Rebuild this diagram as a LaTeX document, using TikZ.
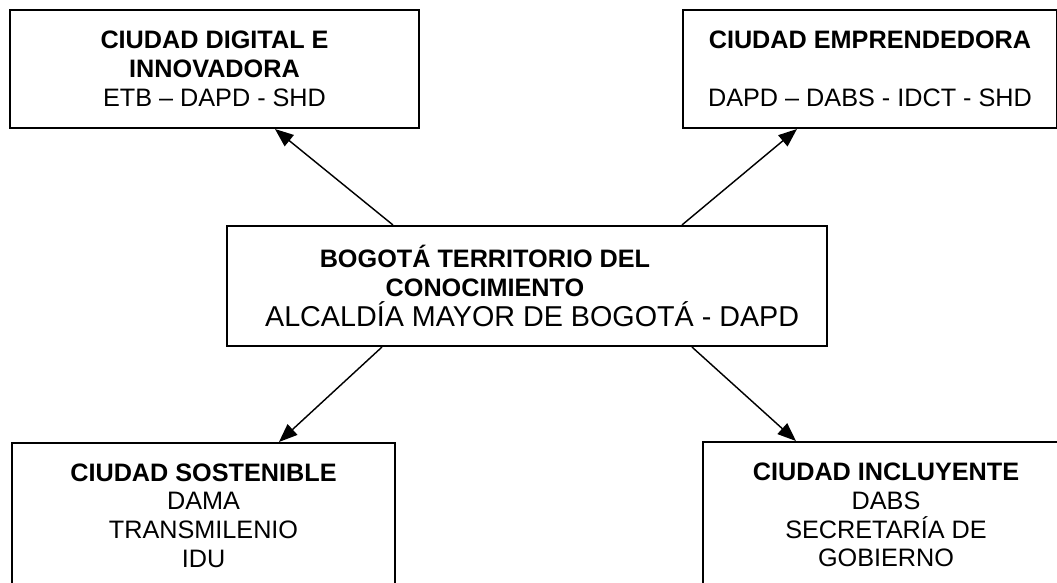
\documentclass[tikz,border=0pt]{standalone}
\usepackage{fontspec}
\setmainfont{Liberation Sans}
\usetikzlibrary{arrows.meta}
\newcommand{\pxu}{0.4875pt}

\begin{document}
\begin{tikzpicture}[x=\pxu,y=-\pxu,
  box/.style={draw,line width=1pt,rectangle,inner sep=0pt,align=center,font=\fontsize{12.3pt}{14pt}\selectfont},
  arr/.style={line width=0.7pt,-{Triangle[length=9pt,width=7pt]}}]
\useasboundingbox (0,0) rectangle (1057,582);
\node[box,minimum width=409*\pxu,minimum height=118*\pxu] (dig) at (214.5,69) {\textbf{CIUDAD DIGITAL E}\\\textbf{INNOVADORA}\\ETB – DAPD - SHD};
\node[box,minimum width=374*\pxu,minimum height=118*\pxu] (emp) at (870,69) {\textbf{CIUDAD EMPRENDEDORA}\\[14pt]DAPD – DABS - IDCT - SHD};
\node[box,minimum width=600*\pxu,minimum height=120*\pxu] (ctr) at (527,286) {\textbf{BOGOTÁ TERRITORIO DEL}\hspace*{41pt}\null\\\textbf{CONOCIMIENTO}\hspace*{41pt}\null\\[1pt]\hspace*{5pt}{\fontsize{14pt}{16pt}\selectfont ALCALDÍA MAYOR DE BOGOTÁ - DAPD}};
\node[box,minimum width=383*\pxu,minimum height=145*\pxu] (sos) at (203.5,515.5) {\textbf{CIUDAD SOSTENIBLE}\\DAMA\\TRANSMILENIO\\IDU};
\node[box,minimum width=366*\pxu,minimum height=146*\pxu] (inc) at (886,515) {\textbf{CIUDAD INCLUYENTE}\\DABS\\SECRETARÍA DE\\GOBIERNO};
\draw[arr] ([xshift=167*\pxu]ctr.north west) -- ([xshift=266*\pxu]dig.south west);
\draw[arr] ([xshift=456*\pxu]ctr.north west) -- ([xshift=115*\pxu]emp.south west);
\draw[arr] ([xshift=156*\pxu]ctr.south west) -- ([xshift=268*\pxu]sos.north west);
\draw[arr] ([xshift=466*\pxu]ctr.south west) -- ([xshift=94*\pxu]inc.north west);
\end{tikzpicture}
\end{document}
